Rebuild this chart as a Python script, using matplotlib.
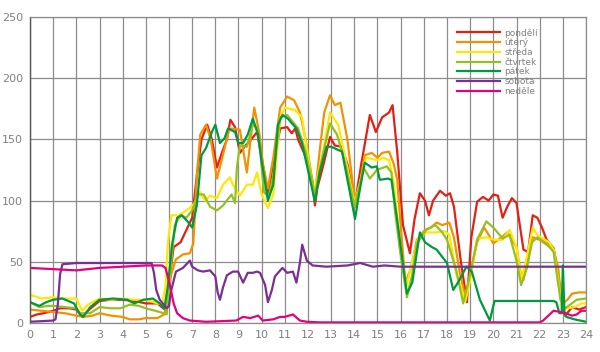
import matplotlib
matplotlib.use("Agg")
import matplotlib.pyplot as plt

hours_ticks = list(range(0, 25))
y_ticks = [0, 50, 100, 150, 200, 250]

labels = ["pondělí", "úterý", "středa", "čtvrtek", "pátek", "sobota", "neděle"]
colors = ["#e41f13", "#f39200", "#ffe800", "#95c11f", "#009a3e", "#7a2f92", "#e5007d"]

# pondělí
mon_x = [0, 0.3, 0.6, 1.0, 1.3, 1.7, 2.0, 2.25, 2.5, 3.0, 3.5, 4.0, 4.5, 5.0, 5.5, 5.75, 5.9,
         6.05, 6.2, 6.5, 6.8, 7.0, 7.2, 7.4, 7.65, 7.85, 8.07, 8.3, 8.5, 8.65, 8.85, 9.06, 9.3,
         9.55, 9.8, 10.05, 10.27, 10.5, 10.8, 11.1, 11.3, 11.45, 11.57, 11.87, 12.17, 12.3, 12.4,
         12.7, 12.95, 13.16, 13.45, 13.7, 14.03, 14.3, 14.67, 14.93, 15.2, 15.5, 15.65, 15.85,
         16.1, 16.4, 16.6, 16.83, 17.05, 17.22, 17.4, 17.7, 17.95, 18.13, 18.3, 18.6, 18.86,
         19.05, 19.3, 19.55, 19.8, 20.0, 20.2, 20.4, 20.6, 20.8, 21.0, 21.3, 21.5, 21.7, 21.9,
         22.1, 22.3, 22.6, 22.8, 22.95, 23.1, 23.4, 23.7, 24.0]
mon_y = [5, 7, 8, 10, 12, 12, 11, 5, 10, 18, 19, 19, 18, 16, 16, 12, 10,
         40, 62, 66, 78, 86, 120, 150, 162, 150, 127, 140, 150, 166, 160, 139, 145,
         150, 156, 130, 105, 130, 159, 160, 155, 159, 150, 137, 118, 96, 110,
         132, 152, 145, 144, 130, 98, 130, 170, 156, 168, 172, 178, 140,
         80, 57, 85, 106, 100, 88, 100, 108, 104, 106, 95, 50, 17,
         70, 99, 103, 100, 105, 104, 86, 95, 102, 98, 60, 58, 88, 86,
         78, 68, 61, 40, 16, 6, 13, 11, 13]

# úterý
tue_x = [0, 0.5, 1.0, 1.5, 2.0, 2.3, 2.7, 3.0, 3.5, 4.0, 4.3, 4.7, 5.0, 5.5, 5.8, 5.95, 6.1,
         6.3, 6.6, 6.9, 7.05, 7.2, 7.35, 7.6, 7.8, 8.07, 8.3, 8.6, 9.06, 9.36, 9.68, 9.9, 10.05,
         10.27, 10.5, 10.8, 11.1, 11.4, 11.65, 11.9, 12.2, 12.3, 12.5, 12.7, 12.95, 13.16, 13.4,
         13.7, 14.05, 14.25, 14.45, 14.75, 15.0, 15.2, 15.5, 15.7, 15.85, 16.0, 16.2, 16.45,
         16.7, 17.05, 17.3, 17.55, 17.8, 18.1, 18.3, 18.55, 18.8, 19.0, 19.3, 19.6, 19.8, 20.0,
         20.35, 20.6, 20.8, 21.0, 21.2, 21.3, 21.5, 21.7, 22.0, 22.3, 22.6, 22.8, 22.9, 23.0,
         23.2, 23.4, 23.7, 24.0]
tue_y = [11, 10, 9, 8, 6, 5, 6, 8, 6, 5, 3, 3, 4, 4, 7, 20, 40,
         52, 56, 57, 65, 120, 154, 162, 150, 118, 135, 159, 158, 123, 176, 155, 130,
         110, 135, 176, 185, 182, 172, 150, 115, 105, 140, 172, 186, 178, 180,
         150, 95, 115, 137, 139, 135, 139, 140, 130, 117, 80, 33, 45,
         68, 76, 78, 82, 80, 82, 70, 41, 21, 40, 66, 78, 72, 65,
         70, 74, 68, 62, 38, 35, 55, 70, 68, 64, 60, 45, 25, 16,
         19, 24, 25, 25]

# středa
wed_x = [0, 0.5, 1.0, 1.5, 2.0, 2.25, 2.5, 3.0, 3.5, 4.0, 4.5, 5.0, 5.5, 5.7, 5.85, 5.95, 6.1,
         6.4, 6.6, 6.9, 7.1, 7.34, 7.55, 7.77, 8.07, 8.33, 8.63, 8.76, 9.06, 9.36, 9.62, 9.8,
         10.0, 10.27, 10.5, 10.8, 11.0, 11.44, 11.74, 12.17, 12.26, 12.65, 12.95, 13.3, 13.7,
         14.0, 14.25, 14.5, 15.0, 15.25, 15.5, 15.7, 16.0, 16.25, 16.5, 16.75, 17.1, 17.55,
         17.9, 18.1, 18.4, 18.8, 19.0, 19.3, 19.7, 20.05, 20.4, 20.7, 21.0, 21.2, 21.4, 21.7,
         21.9, 22.4, 22.6, 22.8, 22.95, 23.2, 23.5, 23.8, 24.0]
wed_y = [23, 20, 21, 20, 20, 10, 15, 20, 19, 20, 19, 19, 16, 15, 30, 65, 88,
         88, 90, 94, 98, 107, 100, 104, 102, 113, 119, 113, 104, 113, 113, 123,
         105, 94, 105, 168, 176, 174, 168, 115, 107, 140, 172, 162, 127,
         98, 115, 135, 133, 135, 133, 115, 60, 30, 50, 69, 74, 74,
         75, 72, 40, 18, 35, 69, 70, 68, 68, 76, 62, 35, 50, 78,
         72, 66, 60, 35, 13, 12, 13, 16, 16]

# čtvrtek
thu_x = [0, 0.4, 0.8, 1.0, 1.5, 2.0, 2.15, 2.6, 3.0, 3.5, 3.9, 4.3, 4.7, 5.0, 5.6, 5.9, 6.05,
         6.25, 6.5, 6.75, 7.0, 7.25, 7.5, 7.77, 8.07, 8.33, 8.7, 8.85, 8.93, 9.06, 9.36, 9.62,
         9.84, 10.1, 10.3, 10.5, 10.8, 11.1, 11.57, 11.9, 12.2, 12.3, 12.5, 12.8, 12.95, 13.25,
         13.6, 14.0, 14.2, 14.4, 14.67, 14.97, 15.4, 15.6, 15.75, 16.0, 16.27, 16.5, 16.7, 17.1,
         17.5, 17.8, 18.0, 18.4, 18.7, 19.0, 19.3, 19.7, 20.0, 20.4, 20.7, 21.0, 21.2, 21.45,
         21.67, 21.9, 22.3, 22.6, 22.9, 23.1, 23.6, 24.0]
thu_y = [17, 13, 14, 14, 13, 12, 8, 8, 13, 12, 12, 15, 14, 12, 9, 7, 40,
         80, 88, 86, 92, 105, 105, 95, 92, 96, 105, 98, 127, 145, 144, 162,
         159, 107, 103, 120, 168, 170, 159, 140, 113, 105, 125, 151, 163, 154,
         131, 96, 110, 127, 118, 125, 128, 123, 92, 55, 21, 40, 65, 76,
         80, 74, 68, 43, 16, 40, 68, 83, 78, 69, 72, 51, 31, 45,
         66, 70, 65, 58, 19, 12, 19, 20]

# pátek
fri_x = [0, 0.4, 0.7, 1.0, 1.4, 1.9, 2.16, 2.3, 2.6, 3.0, 3.6, 4.2, 4.5, 4.9, 5.3, 5.6, 5.8,
         5.95, 6.13, 6.35, 6.55, 6.8, 7.0, 7.2, 7.4, 7.6, 7.85, 8.0, 8.2, 8.4, 8.55, 8.85, 9.0,
         9.2, 9.4, 9.62, 9.84, 10.0, 10.27, 10.5, 10.7, 10.9, 11.13, 11.5, 11.74, 12.3, 12.5,
         12.8, 13.0, 13.47, 13.6, 14.03, 14.2, 14.45, 14.75, 14.97, 15.1, 15.45, 15.6, 15.83,
         16.27, 16.5, 16.83, 17.05, 17.35, 17.55, 18.0, 18.27, 18.47, 18.84, 19.07, 19.42,
         19.85, 19.95, 20.05, 22.6, 22.72, 22.85, 22.95, 23.0, 23.07, 23.15, 23.5, 24.0]
fri_y = [17, 14, 17, 19, 20, 16, 7, 5, 13, 19, 20, 19, 16, 19, 20, 16, 12,
         30, 64, 86, 88, 83, 78, 96, 137, 143, 156, 162, 147, 151, 159, 156, 147,
         147, 154, 167, 154, 132, 100, 113, 162, 170, 167, 159, 147, 99, 123,
         144, 144, 140, 127, 85, 105, 131, 127, 128, 117, 118, 117, 87,
         24, 33, 74, 66, 62, 60, 49, 27, 33, 46, 42, 19,
         2, 10, 18, 18, 17, 8, 8, 47, 8, 5, 3, 1]

# sobota
sat_x = [0, 1.0, 1.1, 1.2, 1.3, 1.4, 2.0, 3.0, 4.0, 5.0, 5.25, 5.35, 5.45, 5.6, 5.9, 6.0, 6.1,
         6.3, 6.6, 6.9, 7.0, 7.25, 7.47, 7.77, 8.0, 8.1, 8.2, 8.33, 8.5, 8.76, 8.98, 9.2, 9.4,
         9.62, 9.8, 9.93, 10.15, 10.27, 10.44, 10.57, 10.8, 10.9, 11.1, 11.35, 11.5, 11.65,
         11.75, 11.95, 12.2, 12.8, 13.7, 14.25, 14.8, 15.3, 16.0, 24.0]
sat_y = [1, 2, 3, 15, 40, 48, 49, 49, 49, 49, 49, 41, 27, 19, 12, 14, 27,
         42, 45, 51, 46, 43, 42, 43, 38, 25, 19, 29, 39, 42, 42, 33, 41,
         41, 42, 41, 31, 17, 27, 38, 43, 45, 41, 42, 33, 49,
         64, 51, 47, 46, 47, 49, 46, 47, 46, 46]

# neděle
sun_x = [0, 1.0, 2.0, 3.0, 4.0, 5.0, 5.7, 5.85, 6.05, 6.2, 6.35, 6.6, 6.9, 7.6, 8.9, 9.2, 9.5,
         9.85, 10.05, 10.5, 10.8, 11.0, 11.35, 11.65, 11.95, 12.5, 22.0, 22.15, 22.6, 22.9,
         23.1, 23.4, 23.6, 23.8, 24.0]
sun_y = [45, 44, 43, 45, 46, 47, 47, 45, 30, 16, 8, 4, 2, 1, 2, 5, 4,
         6, 2, 3, 5, 5, 7, 2, 1, 0.5, 0.5, 2, 10, 9,
         8, 6, 7, 10, 10]

series = [(mon_x, mon_y), (tue_x, tue_y), (wed_x, wed_y), (thu_x, thu_y),
          (fri_x, fri_y), (sat_x, sat_y), (sun_x, sun_y)]

W, H = 600, 352
fig = plt.figure(figsize=(W / 100, H / 100), dpi=100)
ax = fig.add_axes([30 / W, (H - 323) / H, 556 / W, 306 / H])

for (xs, ys), lab, col in zip(series, labels, colors):
    assert len(xs) == len(ys), lab
    ax.plot(xs, ys, color=col, lw=1.6, label=lab, solid_joinstyle="round")

ax.set_xlim(0, 24)
ax.set_ylim(0, 250)
ax.set_xticks(hours_ticks)
ax.set_yticks(y_ticks)
ax.grid(True, color="#8c8c8c", lw=0.9)
ax.set_axisbelow(True)
for s in ["top", "right", "bottom"]:
    ax.spines[s].set_color("#8c8c8c")
    ax.spines[s].set_linewidth(0.9)
ax.spines["left"].set_color("#555555")
ax.spines["left"].set_linewidth(1.0)
ax.tick_params(length=0, labelsize=8, labelcolor="#808080", pad=5)

leg = ax.legend(loc="upper left", bbox_to_anchor=(452 / W, (H - 24) / H),
                bbox_transform=fig.transFigure, frameon=False, fontsize=6.5,
                handlelength=4.8, handletextpad=0.5, labelspacing=0.08,
                borderpad=0)
for t in leg.get_texts():
    t.set_color("#808080")

fig.savefig("out.png", dpi=100)
